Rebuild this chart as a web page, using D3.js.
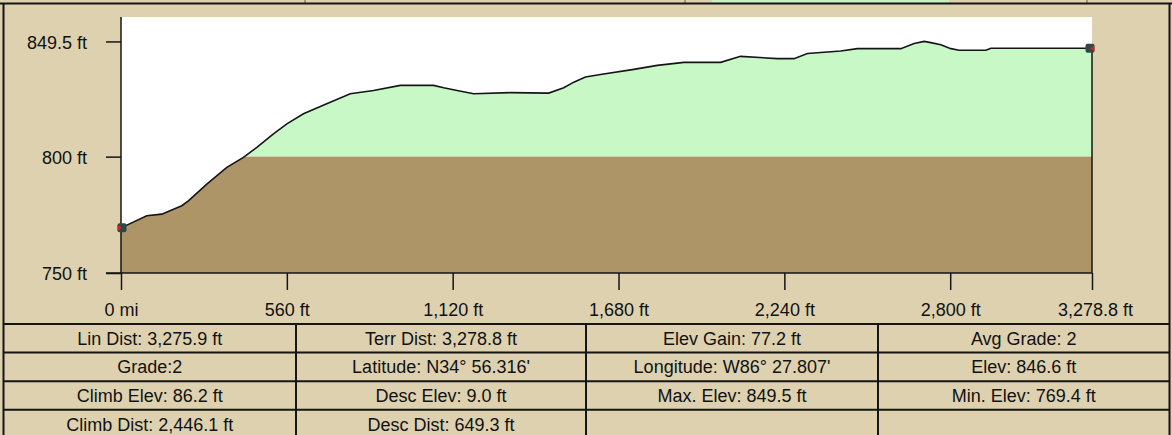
<!DOCTYPE html>
<html>
<head>
<meta charset="utf-8">
<script src="https://cdn.jsdelivr.net/npm/d3@7"></script>
<style>
html,body{margin:0;padding:0;background:#ded1b0;}
svg{display:block;}
text{font-family:"Liberation Sans",Arial,sans-serif;font-size:18px;fill:#111;}
</style>
</head>
<body>
<svg id="chart" width="1172" height="435"></svg>
<script>
// ---- data ----
const distFt = [0, 86.9, 137.6, 205.2, 227.5, 289.7, 357.3, 413.4, 458.7, 514.8, 560.1, 616.2, 706.5, 774.1, 852.8, 943.1, 1055.6, 1089.5, 1134.8, 1190.9, 1314.9, 1444.4, 1495.1, 1528.9, 1568.4, 1619.1, 1731.7, 1810.8, 1900.7, 2024.8, 2092.3, 2216.4, 2272.5, 2317.8, 2430.4, 2486.8, 2633.2, 2678.2, 2712.0, 2734.6, 2768.4, 2802.2, 2830.3, 2920.5, 2937.4, 3278.8];
const elevFt = [769.4, 774.6, 775.3, 778.9, 781.0, 788.2, 795.4, 799.7, 804.0, 809.8, 814.1, 818.4, 823.4, 827.0, 828.4, 830.6, 830.6, 829.6, 828.4, 827.0, 827.5, 827.3, 829.6, 832.0, 834.2, 835.3, 837.5, 839.2, 840.5, 840.5, 843.1, 842.1, 842.1, 844.3, 845.4, 846.4, 846.4, 848.6, 849.5, 849.0, 848.1, 846.4, 845.7, 845.7, 846.6, 846.6];
const xTickValues = [0, 560, 1120, 1680, 2240, 2800, 3278.8];
const xTickLabels = ["0 mi", "560 ft", "1,120 ft", "1,680 ft", "2,240 ft", "2,800 ft", "3,278.8 ft"];
const yTickValues = [750, 800, 849.5];
const yTickLabels = ["750 ft", "800 ft", "849.5 ft"];
const splitElev = 800;
const statsRow1 = ["Lin Dist: 3,275.9 ft", "Terr Dist: 3,278.8 ft", "Elev Gain: 77.2 ft", "Avg Grade: 2"];
const statsRow2 = ["Grade:2", "Latitude: N34\u00b0 56.316'", "Longitude: W86\u00b0 27.807'", "Elev: 846.6 ft"];
const statsRow3 = ["Climb Elev: 86.2 ft", "Desc Elev: 9.0 ft", "Max. Elev: 849.5 ft", "Min. Elev: 769.4 ft"];
const statsRow4 = ["Climb Dist: 2,446.1 ft", "Desc Dist: 649.3 ft", "", ""];

// ---- layout ----
const svg = d3.select("#chart");
const W = 1172, H = 435;
const plot = {left: 121, right: 1092, top: 17, bottom: 273};
const x = d3.scaleLinear().domain([0, 3278.8]).range([plot.left, plot.right]);
const y = d3.scaleLinear().domain([750, 860]).range([plot.bottom, plot.top]);
const ink = "#151515";
const tan = "#ded1b0";
const FONT = "Liberation Sans, Arial, sans-serif";

// background
svg.append("rect").attr("x", 0).attr("y", 0).attr("width", W).attr("height", H).attr("fill", tan);
// top strip remnants
svg.append("rect").attr("x", 712).attr("y", 0).attr("width", 237).attr("height", 3).attr("fill", "#c8f0c0");
[305, 685, 1087].forEach(v => svg.append("line").attr("x1", v).attr("x2", v).attr("y1", 0).attr("y2", 3).attr("stroke", "#6a5a40").attr("stroke-width", 1));
svg.append("line").attr("x1", 0).attr("x2", W).attr("y1", 3.5).attr("y2", 3.5).attr("stroke", ink).attr("stroke-width", 2);
// outer frame
svg.append("line").attr("x1", 3.5).attr("x2", 3.5).attr("y1", 3).attr("y2", H).attr("stroke", ink).attr("stroke-width", 2);
svg.append("line").attr("x1", 1169.5).attr("x2", 1169.5).attr("y1", 3).attr("y2", H).attr("stroke", ink).attr("stroke-width", 2);

// plot background
svg.append("rect").attr("x", plot.left).attr("y", plot.top).attr("width", plot.right - plot.left).attr("height", plot.bottom - plot.top).attr("fill", "#ffffff");

const pts = distFt.map((d, i) => [d, elevFt[i]]);
const area = d3.area().x(d => x(d[0])).y0(y(750)).y1(d => y(d[1]));
svg.append("clipPath").attr("id", "profClip").append("path").attr("d", area(pts));
const g = svg.append("g").attr("clip-path", "url(#profClip)");
g.append("rect").attr("x", plot.left).attr("y", plot.top).attr("width", plot.right - plot.left).attr("height", y(splitElev) - plot.top).attr("fill", "#c8f8c6");
g.append("rect").attr("x", plot.left).attr("y", y(splitElev)).attr("width", plot.right - plot.left).attr("height", plot.bottom - y(splitElev)).attr("fill", "#ae9567");

// profile line
const line = d3.line().x(d => x(d[0])).y(d => y(d[1]));
svg.append("path").attr("d", line(pts)).attr("fill", "none").attr("stroke", ink).attr("stroke-width", 1.6);
// right edge
const last = pts[pts.length - 1];
svg.append("line").attr("x1", x(last[0])).attr("x2", x(last[0])).attr("y1", y(last[1])).attr("y2", y(750)).attr("stroke", ink).attr("stroke-width", 1.5);

// y axis
const yAxis = d3.axisLeft(y).tickValues(yTickValues).tickSize(15).tickPadding(19)
  .tickFormat((d, i) => yTickLabels[i]);
const ya = svg.append("g").attr("transform", `translate(${plot.left},0)`).call(yAxis);
ya.select(".domain").attr("stroke", ink).attr("stroke-width", 1.5).attr("d", `M0,${plot.top}V${plot.bottom + 1}`);
ya.selectAll(".tick line").attr("stroke", ink).attr("stroke-width", 1.5);
ya.selectAll(".tick text").attr("font-family", FONT).attr("font-size", 18).attr("fill", "#111").attr("dy", "0.38em");

// x axis
const xAxis = d3.axisBottom(x).tickValues(xTickValues).tickSize(17).tickPadding(13)
  .tickFormat((d, i) => xTickLabels[i]);
const xa = svg.append("g").attr("transform", `translate(0,${plot.bottom})`).call(xAxis);
xa.select(".domain").attr("stroke", ink).attr("stroke-width", 1.5).attr("d", `M${plot.left - 15},0H${plot.right}`);
xa.selectAll(".tick line").attr("stroke", ink).attr("stroke-width", 1.5);
xa.selectAll(".tick text").attr("font-family", FONT).attr("font-size", 18).attr("fill", "#111");
xa.selectAll(".tick").filter(d => d === 3278.8).select("text").attr("dx", 3);

// endpoint markers
function marker(px, py, dir) {
  const m = svg.append("g").attr("transform", `translate(${px},${py})`);
  m.append("rect").attr("x", -4.5).attr("y", -4.5).attr("width", 9).attr("height", 9).attr("rx", 2).attr("fill", "#2e4848");
  m.append("path").attr("d", dir > 0 ? "M-4.5,-3L0,0L-4.5,3Z" : "M4.5,-3L0,0L4.5,3Z").attr("fill", "#d82020");
}
marker(x(pts[0][0]) + 1, y(pts[0][1]), 1);
marker(x(last[0]) - 2, y(last[1]), -1);

// stats table
const tableTop = 324, rowH = 28.6;
const colEdges = [3.5, 296, 586, 878, 1169.5];
const rows = [statsRow1, statsRow2, statsRow3, statsRow4];
const tg = svg.append("g");
rows.forEach((row, r) => {
  const ty = tableTop + r * rowH;
  tg.append("line").attr("x1", 3).attr("x2", 1170).attr("y1", ty).attr("y2", ty).attr("stroke", ink).attr("stroke-width", 2);
  row.forEach((txt, c) => {
    const cx = (colEdges[c] + colEdges[c + 1]) / 2;
    tg.append("text").attr("x", cx).attr("y", ty + rowH / 2 + 6.5).attr("text-anchor", "middle").text(txt);
  });
});
[296, 586, 878].forEach(v => tg.append("line").attr("x1", v).attr("x2", v).attr("y1", tableTop).attr("y2", H).attr("stroke", ink).attr("stroke-width", 2));
</script>
</body>
</html>
